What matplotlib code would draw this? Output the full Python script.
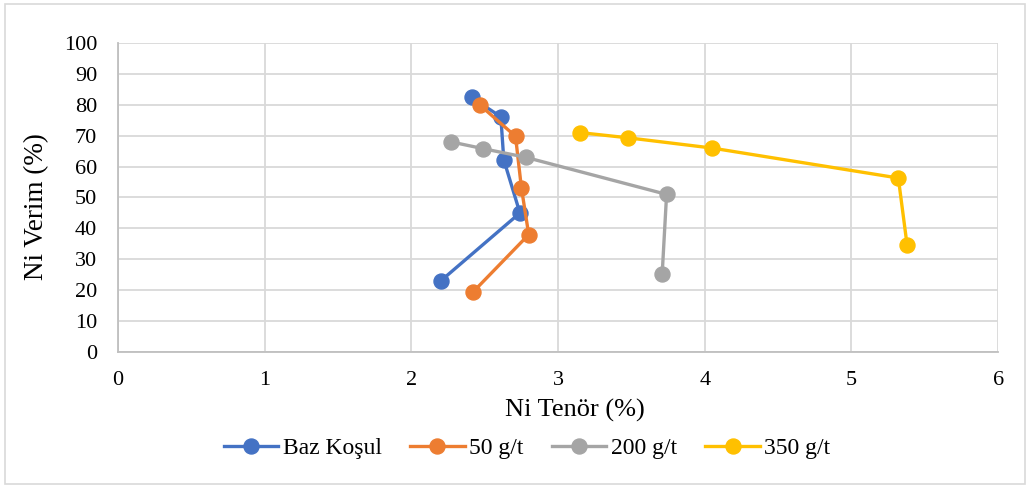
import matplotlib.pyplot as plt
from matplotlib.patches import Rectangle

plt.rcParams['font.family'] = ['Liberation Serif', 'DejaVu Serif']

# Ni grade (x) and Ni recovery (y) for each collector dosage
baz_x = [2.41, 2.61, 2.63, 2.74, 2.20]
baz_y = [82.4, 76.1, 62.2, 45.0, 23.0]
g50_x = [2.47, 2.71, 2.75, 2.80, 2.42]
g50_y = [79.8, 69.8, 53.2, 38.0, 19.4]
g200_x = [2.27, 2.49, 2.78, 3.74, 3.71]
g200_y = [68.0, 65.8, 63.0, 51.0, 25.3]
g350_x = [3.15, 3.48, 4.05, 5.32, 5.38]
g350_y = [71.0, 69.3, 66.0, 56.3, 34.5]

series = [
    ('Baz Koşul', baz_x, baz_y, '#4472C4'),
    ('50 g/t', g50_x, g50_y, '#ED7D31'),
    ('200 g/t', g200_x, g200_y, '#A5A5A5'),
    ('350 g/t', g350_x, g350_y, '#FFC000'),
]

fig = plt.figure(figsize=(10.3, 4.88), dpi=100)
ax = fig.add_axes([0.1146, 0.2787, 0.8544, 0.6332])

for name, xs, ys, col in series:
    ax.plot(xs, ys, color=col, lw=2.4, marker='o', markersize=10.8, label=name)

ax.set_xlim(0, 6)
ax.set_ylim(0, 100)
ax.set_xticks(range(0, 7))
ax.set_yticks(range(0, 101, 10))
ax.grid(True, color='#d9d9d9', lw=1.3)
ax.set_axisbelow(True)
for s in ['top', 'right']:
    ax.spines[s].set_visible(False)
for s in ['left', 'bottom']:
    ax.spines[s].set_color('#bfbfbf')
    ax.spines[s].set_linewidth(1.3)
ax.tick_params(length=0, labelsize=16)
ax.tick_params(axis='x', pad=14)
ax.tick_params(axis='y', pad=15)

ax.set_xlabel('Ni Tenör (%)', fontsize=19)
ax.xaxis.label.set_va('baseline')
ax.xaxis.set_label_coords(0.519, -0.210)
ax.set_ylabel('Ni Verim (%)', fontsize=19.5)
ax.yaxis.label.set_va('center')
ax.yaxis.set_label_coords(-0.092, 0.47)

ax.legend(loc='center', bbox_to_anchor=(0.465, -0.311), ncol=4,
          frameon=False, fontsize=17, handlelength=2.3, handletextpad=0.2,
          columnspacing=1.2, markerscale=1.0)

fig.patches.append(Rectangle((0.005, 0.008), 0.99, 0.984, transform=fig.transFigure,
                             fill=False, edgecolor='#d9d9d9', lw=1.2))

fig.savefig('out.png', dpi=100)
